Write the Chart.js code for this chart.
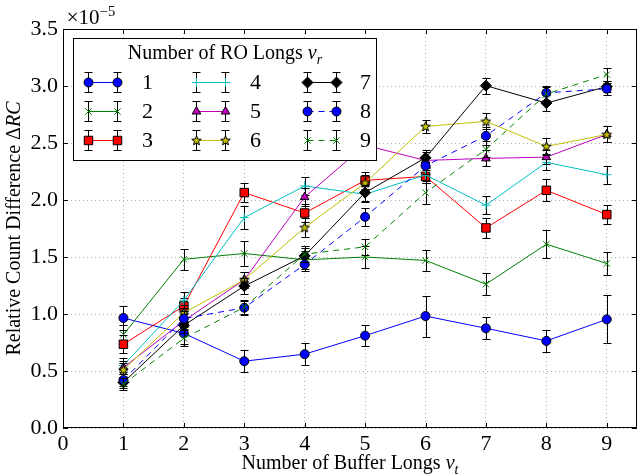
<!DOCTYPE html>
<html>
<head>
<meta charset="utf-8">
<script src="https://cdn.jsdelivr.net/npm/chart.js@4.4.1/dist/chart.umd.min.js"></script>
<style>
  html, body { margin: 0; padding: 0; background: #fff; }
</style>
</head>
<body>
<canvas id="rcDiffChart" width="644" height="474"></canvas>
<script>
// values are in units of 1e-5 (the axis shows the x10^-5 offset)
var xVals = [1, 2, 3, 4, 5, 6, 7, 8, 9];
var xTicks = [0, 1, 2, 3, 4, 5, 6, 7, 8, 9];
var yTicks = [0, 0.5, 1.0, 1.5, 2.0, 2.5, 3.0, 3.5];
var seriesNames = ['1', '2', '3', '4', '5', '6', '7', '8', '9'];

var ro1 = [0.965, 0.83, 0.586, 0.648, 0.81, 0.982, 0.875, 0.764, 0.953];
var ro2 = [0.82, 1.48, 1.531, 1.475, 1.50, 1.47, 1.262, 1.612, 1.443];
var ro3 = [0.735, 1.07, 2.065, 1.886, 2.172, 2.207, 1.755, 2.085, 1.872];
var ro4 = [0.55, 1.12, 1.846, 2.123, 2.05, 2.22, 1.954, 2.33, 2.222];
var ro5 = [0.53, 0.94, 1.30, 2.026, 2.48, 2.347, 2.365, 2.376, 2.575];
var ro6 = [0.51, 1.01, 1.30, 1.758, 2.15, 2.645, 2.69, 2.47, 2.575];
var ro7 = [0.40, 0.90, 1.245, 1.51, 2.065, 2.37, 3.003, 2.85, 2.995];
var ro8 = [0.42, 0.96, 1.055, 1.435, 1.852, 2.30, 2.563, 2.94, 2.975];
var ro9 = [0.385, 0.787, 1.059, 1.525, 1.589, 2.065, 2.444, 2.93, 3.10];

var err1 = [0.105, 0.09, 0.097, 0.095, 0.095, 0.18, 0.095, 0.10, 0.21];
var err2 = [0.08, 0.09, 0.11, 0.08, 0.095, 0.09, 0.095, 0.125, 0.105];
var err3 = [0.08, 0.07, 0.085, 0.08, 0.075, 0.06, 0.09, 0.095, 0.08];
var err4 = [0.06, 0.07, 0.10, 0.08, 0.07, 0.07, 0.08, 0.07, 0.08];
var err5 = [0.06, 0.07, 0.07, 0.08, 0.08, 0.07, 0.07, 0.06, 0.07];
var err6 = [0.06, 0.07, 0.07, 0.08, 0.07, 0.06, 0.07, 0.075, 0.07];
var err7 = [0.05, 0.07, 0.07, 0.07, 0.07, 0.07, 0.07, 0.07, 0.05];
var err8 = [0.05, 0.07, 0.06, 0.06, 0.08, 0.07, 0.08, 0.06, 0.05];
var err9 = [0.05, 0.07, 0.06, 0.07, 0.07, 0.10, 0.07, 0.06, 0.06];

var seriesY = [ro1, ro2, ro3, ro4, ro5, ro6, ro7, ro8, ro9];
var seriesErr = [err1, err2, err3, err4, err5, err6, err7, err8, err9];

// styles (matplotlib classic colours)
var serif = "'Liberation Serif', 'DejaVu Serif', serif";
var colors = ['#0000ff', '#008000', '#ff0000', '#00bfbf', '#bf00bf', '#bfbf00', '#000000', '#0000ff', '#008000'];
var dashed = [false, false, false, false, false, false, false, true, true];

// little filled star, Chart.js only has an asterisk
function makeStar() {
  var c = document.createElement('canvas');
  c.width = 11; c.height = 11;
  var g = c.getContext('2d');
  g.beginPath();
  for (var k = 0; k < 10; k++) {
    var r = k % 2 === 0 ? 5 : 2.2;
    var a = -Math.PI / 2 + k * Math.PI / 5;
    g.lineTo(5.5 + r * Math.cos(a), 5.8 + r * Math.sin(a));
  }
  g.closePath();
  g.fillStyle = '#bfbf00';
  g.fill();
  g.strokeStyle = '#000';
  g.lineWidth = 1;
  g.stroke();
  return c;
}
var markers = ['circle', 'crossRot', 'rect', 'cross', 'triangle', makeStar(), 'rectRot', 'circle', 'crossRot'];
var radii = [4.5, 4.5, 6, 4.5, 5, 5, 5.5, 4.5, 4.5];
var lineMarker = [false, true, false, true, false, false, false, false, true];

var datasets = seriesNames.map(function(name, i) {
  return {
    label: name,
    data: xVals.map(function(x, j) { return { x: x, y: seriesY[i][j] }; }),
    borderColor: colors[i],
    backgroundColor: colors[i],
    borderWidth: 1,
    borderDash: dashed[i] ? [6, 5] : [],
    pointStyle: markers[i],
    pointRadius: radii[i],
    pointBorderWidth: 1,
    pointBackgroundColor: colors[i],
    pointBorderColor: lineMarker[i] ? colors[i] : '#000',
    tension: 0,
    order: 9 - i
  };
});

// draw parts of text with italic / sub / sup pieces
function richWidth(ctx, parts, size) {
  var w = 0;
  parts.forEach(function(p) {
    var s = (p.sub || p.sup) ? size * 0.7 : size;
    ctx.font = (p.it ? 'italic ' : '') + s + 'px ' + serif;
    w += ctx.measureText(p.t).width;
  });
  return w;
}
function drawRich(ctx, parts, x, y, size) {
  var cx = x - richWidth(ctx, parts, size) / 2;
  ctx.textAlign = 'left';
  ctx.textBaseline = 'alphabetic';
  parts.forEach(function(p) {
    var s = (p.sub || p.sup) ? size * 0.7 : size;
    ctx.font = (p.it ? 'italic ' : '') + s + 'px ' + serif;
    var dy = p.sub ? size * 0.25 : (p.sup ? -size * 0.4 : 0);
    ctx.fillText(p.t, cx, y + dy);
    cx += ctx.measureText(p.t).width;
  });
}

function errBar(ctx, px, top, bot, cap) {
  ctx.moveTo(px, top); ctx.lineTo(px, bot);
  ctx.moveTo(px - cap, top); ctx.lineTo(px + cap, top);
  ctx.moveTo(px - cap, bot); ctx.lineTo(px + cap, bot);
}

var errorBars = {
  id: 'errorBars',
  beforeDatasetDraw: function(chart, args) {
    var i = args.index;
    var xs = chart.scales.x, ys = chart.scales.y, ctx = chart.ctx;
    ctx.save();
    ctx.strokeStyle = '#000';
    ctx.lineWidth = 1;
    ctx.beginPath();
    xVals.forEach(function(xv, j) {
      var px = Math.round(xs.getPixelForValue(xv)) + 0.5;
      var top = Math.round(ys.getPixelForValue(seriesY[i][j] + seriesErr[i][j])) + 0.5;
      var bot = Math.round(ys.getPixelForValue(seriesY[i][j] - seriesErr[i][j])) + 0.5;
      errBar(ctx, px, top, bot, 4);
    });
    ctx.stroke();
    ctx.restore();
  }
};

var frameAndLegend = {
  id: 'frameAndLegend',
  afterDraw: function(chart) {
    var ctx = chart.ctx, a = chart.chartArea;
    var xs = chart.scales.x, ys = chart.scales.y;
    ctx.save();
    ctx.strokeStyle = '#000';
    ctx.lineWidth = 1;
    ctx.beginPath();
    ctx.rect(a.left + 0.5, a.top + 0.5, a.right - a.left - 1, a.bottom - a.top - 1);
    // inward ticks on all four sides
    xTicks.forEach(function(v) {
      var px = Math.round(xs.getPixelForValue(v)) + 0.5;
      ctx.moveTo(px, a.bottom); ctx.lineTo(px, a.bottom - 5);
      ctx.moveTo(px, a.top); ctx.lineTo(px, a.top + 5);
    });
    yTicks.forEach(function(v) {
      var py = Math.round(ys.getPixelForValue(v)) + 0.5;
      ctx.moveTo(a.left, py); ctx.lineTo(a.left + 5, py);
      ctx.moveTo(a.right, py); ctx.lineTo(a.right - 5, py);
    });
    ctx.stroke();

    ctx.fillStyle = '#000';
    // offset text
    drawRich(ctx, [{ t: '\u00d710' }, { t: '\u22125', sup: true }], 91, 24, 21);
    // axis titles
    drawRich(ctx, [{ t: 'Number of Buffer Longs ' }, { t: 'v', it: true }, { t: 't', it: true, sub: true }],
      (a.left + a.right) / 2, 469, 20);
    ctx.save();
    ctx.translate(20, (a.top + a.bottom) / 2);
    ctx.rotate(-Math.PI / 2);
    drawRich(ctx, [{ t: 'Relative Count Difference \u0394' }, { t: 'RC', it: true }], 0, 0, 20);
    ctx.restore();

    // legend box
    var box = { l: 73.5, t: 38.5, r: 376.5, b: 160.5 };
    ctx.fillStyle = '#fff';
    ctx.fillRect(box.l, box.t, box.r - box.l, box.b - box.t);
    ctx.strokeRect(box.l, box.t, box.r - box.l, box.b - box.t);
    ctx.fillStyle = '#000';
    drawRich(ctx, [{ t: 'Number of RO Longs ' }, { t: 'v', it: true }, { t: 'r', it: true, sub: true }],
      (box.l + box.r) / 2, 59, 20);

    var colX = [88, 196, 307];
    var labX = [142, 250, 360];
    var rowY = [82, 111, 140];
    datasets.forEach(function(ds, i) {
      var c = Math.floor(i / 3), r = i % 3;
      var x0 = colX[c] + 0.5, x1 = colX[c] + 29.5, y = rowY[r] + 0.5;
      ctx.save();
      ctx.strokeStyle = ds.borderColor;
      ctx.lineWidth = 1;
      ctx.setLineDash(ds.borderDash);
      ctx.beginPath();
      ctx.moveTo(x0, y); ctx.lineTo(x1, y);
      ctx.stroke();
      ctx.setLineDash([]);
      ctx.strokeStyle = '#000';
      ctx.beginPath();
      errBar(ctx, x0, y - 10, y + 10, 4);
      errBar(ctx, x1, y - 10, y + 10, 4);
      ctx.stroke();
      ctx.fillStyle = ds.pointBackgroundColor;
      ctx.strokeStyle = ds.pointBorderColor;
      var opt = { pointStyle: ds.pointStyle, radius: ds.pointRadius, rotation: 0, borderWidth: 1 };
      Chart.helpers.drawPoint(ctx, opt, x0, y);
      Chart.helpers.drawPoint(ctx, opt, x1, y);
      ctx.restore();
      ctx.font = '22px ' + serif;
      ctx.textAlign = 'left';
      ctx.textBaseline = 'middle';
      ctx.fillText(ds.label, labX[c], rowY[r] + 1);
    });
    ctx.restore();
  }
};

var ctx = document.getElementById('rcDiffChart').getContext('2d');
var rcChart = new Chart(ctx, {
  type: 'line',
  data: { datasets: datasets },
  options: {
    responsive: false,
    animation: false,
    events: [],
    layout: { padding: { top: 29, right: 1, left: 0, bottom: 0 } },
    plugins: { legend: { display: false }, tooltip: { enabled: false } },
    scales: {
      x: {
        type: 'linear',
        min: 0,
        max: 9.5,
        afterBuildTicks: function(scale) {
          scale.ticks = xTicks.map(function(v) { return { value: v }; });
        },
        afterFit: function(scale) { scale.height = 46; },
        // in v4 border.dash is the dash of the grid lines
        border: { display: false, dash: [1, 3] },
        grid: { color: '#b0b0b0', drawTicks: false },
        ticks: {
          padding: 3,
          maxRotation: 0,
          color: '#000',
          font: { family: serif, size: 22 },
          callback: function(v) { return String(v); }
        }
      },
      y: {
        type: 'linear',
        min: 0,
        max: 3.5,
        afterBuildTicks: function(scale) {
          scale.ticks = yTicks.map(function(v) { return { value: v }; });
        },
        afterFit: function(scale) { scale.width = 63; },
        border: { display: false, dash: [1, 3] },
        grid: { color: '#b0b0b0', drawTicks: false },
        ticks: {
          padding: 5,
          color: '#000',
          font: { family: serif, size: 22 },
          callback: function(v) { return v.toFixed(1); }
        }
      }
    }
  },
  plugins: [errorBars, frameAndLegend]
});
</script>
</body>
</html>
